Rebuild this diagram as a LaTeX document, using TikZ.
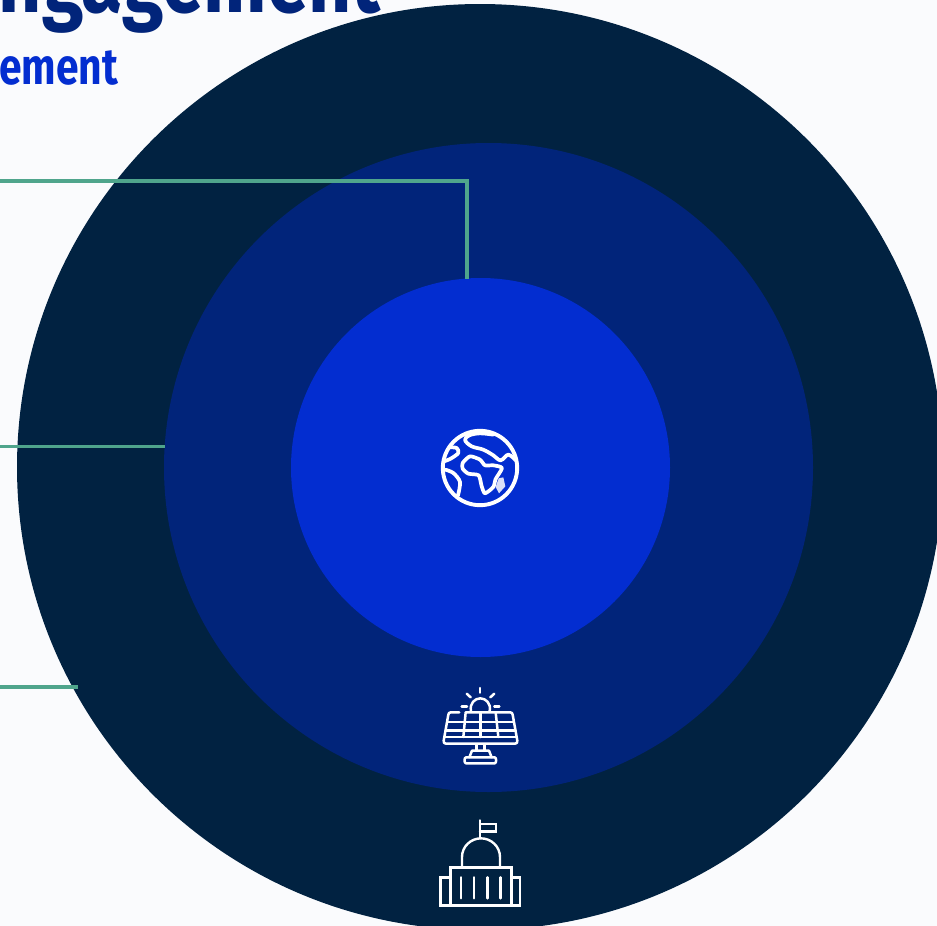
\documentclass[tikz,border=0pt]{standalone}
\usepackage{fontspec}
\newfontfamily\headfont[FakeStretch=0.8]{Fira Sans}
\definecolor{pagebg}{HTML}{FAFBFD}
\definecolor{outerc}{HTML}{012241}
\definecolor{midc}{HTML}{01247A}
\definecolor{innerc}{HTML}{032DD0}
\definecolor{tealc}{HTML}{4FA58C}
\tikzset{
  disc/.style={circle,inner sep=0pt,outer sep=0pt,minimum size=#1},
  connector/.style={draw=tealc,line width=3.9pt,line join=miter},
  icon/.style={draw=white,line width=#1,line cap=round,line join=round,fill=none},
  headline/.style={inner sep=0pt,outer sep=0pt,anchor=base east},
}
\begin{document}
\begin{tikzpicture}[x=1pt,y=-1pt]
\clip (0,0) rectangle (937,926);
\fill[pagebg] (0,0) rectangle (937,926);
\node[headline,text=midc,font=\headfont\bfseries\fontsize{94}{94}\selectfont] (title) at (381,12.5) {ngagement};
\node[headline,text=innerc,font=\headfont\bfseries\fontsize{51}{51}\selectfont] (subtitle) at (118,84) {ement};
\node[disc=926pt,fill=outerc] (outer) at (480,467) {};
\node[disc=649pt,fill=midc] (middle) at (488.5,467.5) {};
\node[disc=379pt,fill=innerc] (inner) at (480.5,467.5) {};
\coordinate (a0) at (0,181);
\coordinate (a1) at (467,278.5);
\coordinate (b0) at (0,446.5);
\coordinate (b1) at (164.5,446.5);
\coordinate (c0) at (0,687);
\coordinate (c1) at (78,687);
\draw[connector] (a0) -| (a1);
\draw[connector] (b0) -- (b1);
\draw[connector] (c0) -- (c1);
% globe
\begin{scope}[shift={(430,418)},x=0.3333pt,y=-0.3333pt]
\draw[icon=3.9pt] (150,150) circle [radius=37.2pt];
\draw[icon=3.7pt] plot[smooth,tension=0.6] coordinates {(190,50) (150,46) (118,52) (105,66) (125,85) (160,95) (190,112) (212,127) (235,110) (257,127)};
\draw[icon=3.7pt] plot[smooth,tension=0.5] coordinates {(60,88) (80,90) (85,105) (62,122) (42,130)};
\draw[icon=3.7pt] plot[smooth,tension=0.5] coordinates {(46,155) (70,165) (90,192) (84,232)};
\draw[icon=3.7pt] plot[smooth cycle,tension=0.4] coordinates {(98,135) (120,115) (150,125) (165,142) (190,142) (216,150) (197,183) (190,207) (165,226) (155,205) (146,172) (115,167) (98,152)};
\fill[white!85!innerc] (206,181) -- (220,178) -- (226,205) -- (207,226) -- (197,207) -- cycle;
\end{scope}
% solar panel
\begin{scope}[shift={(430,680)},x=0.3333pt,y=-0.3333pt]
\draw[icon=2.5pt] (123,93) .. controls (118,70) and (135,55) .. (151,55) .. controls (167,55) and (184,70) .. (179,93);
\draw[icon=2.5pt] (150,24) -- (150,38);
\draw[icon=2.5pt] (110,41) -- (122,52);
\draw[icon=2.5pt] (193,41) -- (181,52);
\draw[icon=2.5pt] (95,80) -- (111,80);
\draw[icon=2.5pt] (193,80) -- (208,80);
\draw[icon=2.5pt] (88,97) -- (62,97) .. controls (57,97) and (56,100) .. (55,104) -- (41,182) .. controls (40,188) and (43,191) .. (48,191) -- (255,191) .. controls (260,191) and (263,188) .. (262,182) -- (248,104) .. controls (247,100) and (246,97) .. (241,97) -- (108,97);
\draw[icon=2.5pt] (52,126) -- (251,126);
\draw[icon=2.5pt] (48,152) -- (256,152);
\draw[icon=2.5pt] (45,171) -- (258,171);
\draw[icon=2.5pt] (107,97) -- (100,171);
\draw[icon=2.5pt] (152,97) -- (152,171);
\draw[icon=2.5pt] (197,97) -- (205,171);
\draw[icon=2.5pt] (140,193) -- (140,212);
\draw[icon=2.5pt] (163,193) -- (163,212);
\draw[icon=2.5pt] (118,232) -- (126,212) -- (177,212) -- (185,232);
\draw[icon=2.5pt] (108,232) -- (194,232) .. controls (200,232) and (200,250) .. (194,250) -- (108,250) .. controls (102,250) and (102,232) .. (108,232) -- cycle;
\end{scope}
% capitol
\begin{scope}[shift={(430,815)},x=0.3333pt,y=-0.3333pt]
\draw[icon=2.4pt,line join=miter] (150,16) -- (150,70);
\draw[icon=2.4pt,line join=miter] (150,27) -- (198,27) -- (198,50) -- (150,50);
\draw[icon=2.4pt,line join=miter] (96,156) -- (96,126) .. controls (96,95) and (122,70) .. (153,70) .. controls (184,70) and (210,95) .. (210,126) -- (210,156);
\draw[icon=2.4pt,line join=miter] (62,157) rectangle (244,272);
\draw[icon=2.4pt,line join=miter] (62,188) -- (32,188) -- (32,272) -- (62,272);
\draw[icon=2.4pt,line join=miter] (244,188) -- (270,188) -- (270,272) -- (244,272);
\draw[icon=2.4pt] (93,187) -- (93,250);
\draw[icon=2.4pt] (132,187) -- (132,250);
\draw[icon=2.4pt] (172,187) -- (172,250);
\draw[icon=2.4pt] (212,187) -- (212,250);
\end{scope}
\end{tikzpicture}
\end{document}
